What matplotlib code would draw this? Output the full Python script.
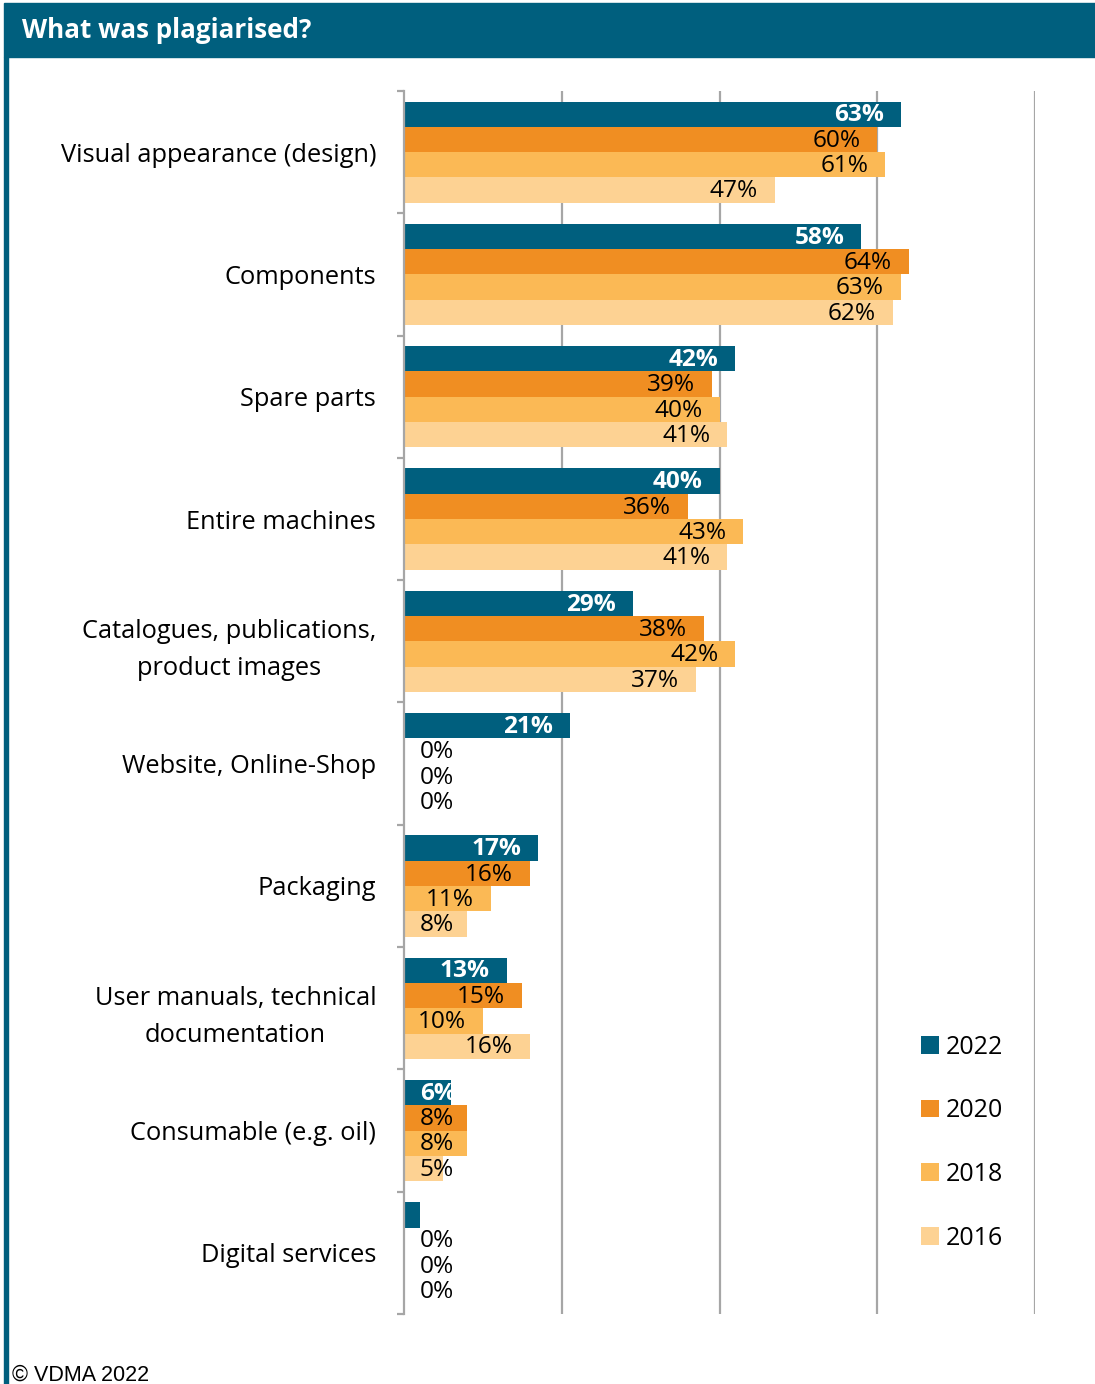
import matplotlib.pyplot as plt
from matplotlib.patches import Rectangle
import numpy as np

plt.rcParams['font.family'] = ['Open Sans', 'DejaVu Sans']

categories = [
    'Visual appearance (design)',
    'Components',
    'Spare parts',
    'Entire machines',
    'Catalogues, publications,\nproduct images',
    'Website, Online-Shop',
    'Packaging',
    'User manuals, technical\ndocumentation',
    'Consumable (e.g. oil)',
    'Digital services',
]
years = ['2022', '2020', '2018', '2016']
v2022 = [63, 58, 42, 40, 29, 21, 17, 13, 6, 2]
v2020 = [60, 64, 39, 36, 38, 0, 16, 15, 8, 0]
v2018 = [61, 63, 40, 43, 42, 0, 11, 10, 8, 0]
v2016 = [47, 62, 41, 41, 37, 0, 8, 16, 5, 0]
# the small 2022 bar for digital services carries no label
unlabelled = {('2022', 'Digital services')}

colors = ['#005F7E', '#F08E22', '#FBB955', '#FDD293']
teal = '#005F7E'
grid_grey = '#A6A6A6'

fig = plt.figure(figsize=(10.95, 13.84), dpi=100)

# header band and left border
fig.patches.append(Rectangle((4 / 1095, 1 - 57 / 1384), 1 - 4 / 1095, 54 / 1384,
                             transform=fig.transFigure, color=teal, zorder=0))
fig.patches.append(Rectangle((4 / 1095, 0), 4 / 1095, 1 - 57 / 1384,
                             transform=fig.transFigure, color=teal, zorder=0))
fig.text(22 / 1095, 1 - 30 / 1384, 'What was plagiarised?', color='white',
         fontsize=18.7, fontweight='bold', va='center', ha='left')
fig.text(12 / 1095, -2 / 1384, '© VDMA 2022', family='Liberation Sans',
         fontsize=15.5, va='bottom', ha='left')

ax = fig.add_axes([404 / 1095, 1 - 1314 / 1384, 631 / 1095, (1314 - 91) / 1384])

h = 0.207
y = np.arange(len(categories))
series = [v2022, v2020, v2018, v2016]
handles = []
for k, (year, vals, col) in enumerate(zip(years, series, colors)):
    ypos = y + (k - 1.5) * h
    bars = ax.barh(ypos, vals, height=h, color=col, label=year, zorder=2)
    handles.append(bars)
    for yy, v, cat in zip(ypos, vals, categories):
        if (year, cat) in unlabelled:
            continue
        txt = f'{v}%'
        if v >= 9:
            x, ha = v - 2.15, 'right'
        else:
            x, ha = 2.0, 'left'
        if k == 0:
            ax.text(x, yy + 0.01, txt, ha=ha, va='center', color='white',
                    fontsize=17.6, fontweight='bold', zorder=3)
        else:
            ax.text(x, yy + 0.01, txt, ha=ha, va='center', color='black',
                    fontsize=17.6, zorder=3)

ax.set_xlim(0, 80)
ax.set_ylim(len(categories) - 0.5, -0.5)

ax.set_xticks([20, 40, 60, 80])
ax.xaxis.grid(True, color=grid_grey, linewidth=1.6, zorder=1)
ax.tick_params(axis='x', length=0, labelbottom=False)

ax.set_yticks(y)
ax.set_yticklabels(categories, fontsize=18.3, linespacing=1.6)
for lab in ax.get_yticklabels():
    lab.set_multialignment('center')
ax.set_yticks(np.arange(len(categories) + 1) - 0.5, minor=True)
ax.tick_params(axis='y', which='major', length=0, pad=20)
ax.tick_params(axis='y', which='minor', length=5, width=1.6, color=grid_grey)

for side in ['top', 'right', 'bottom']:
    ax.spines[side].set_visible(False)
ax.spines['left'].set_color(grid_grey)
ax.spines['left'].set_linewidth(1.6)
ax.set_axisbelow(True)

fig.legend(handles=handles, labels=years, loc='upper left',
           bbox_to_anchor=(908 / 1095, 1 - 1022 / 1384), frameon=False,
           fontsize=18, handlelength=0.72, handleheight=0.72, handletextpad=0.3,
           labelspacing=1.55, borderpad=0)

fig.savefig('out.png', dpi=100)
